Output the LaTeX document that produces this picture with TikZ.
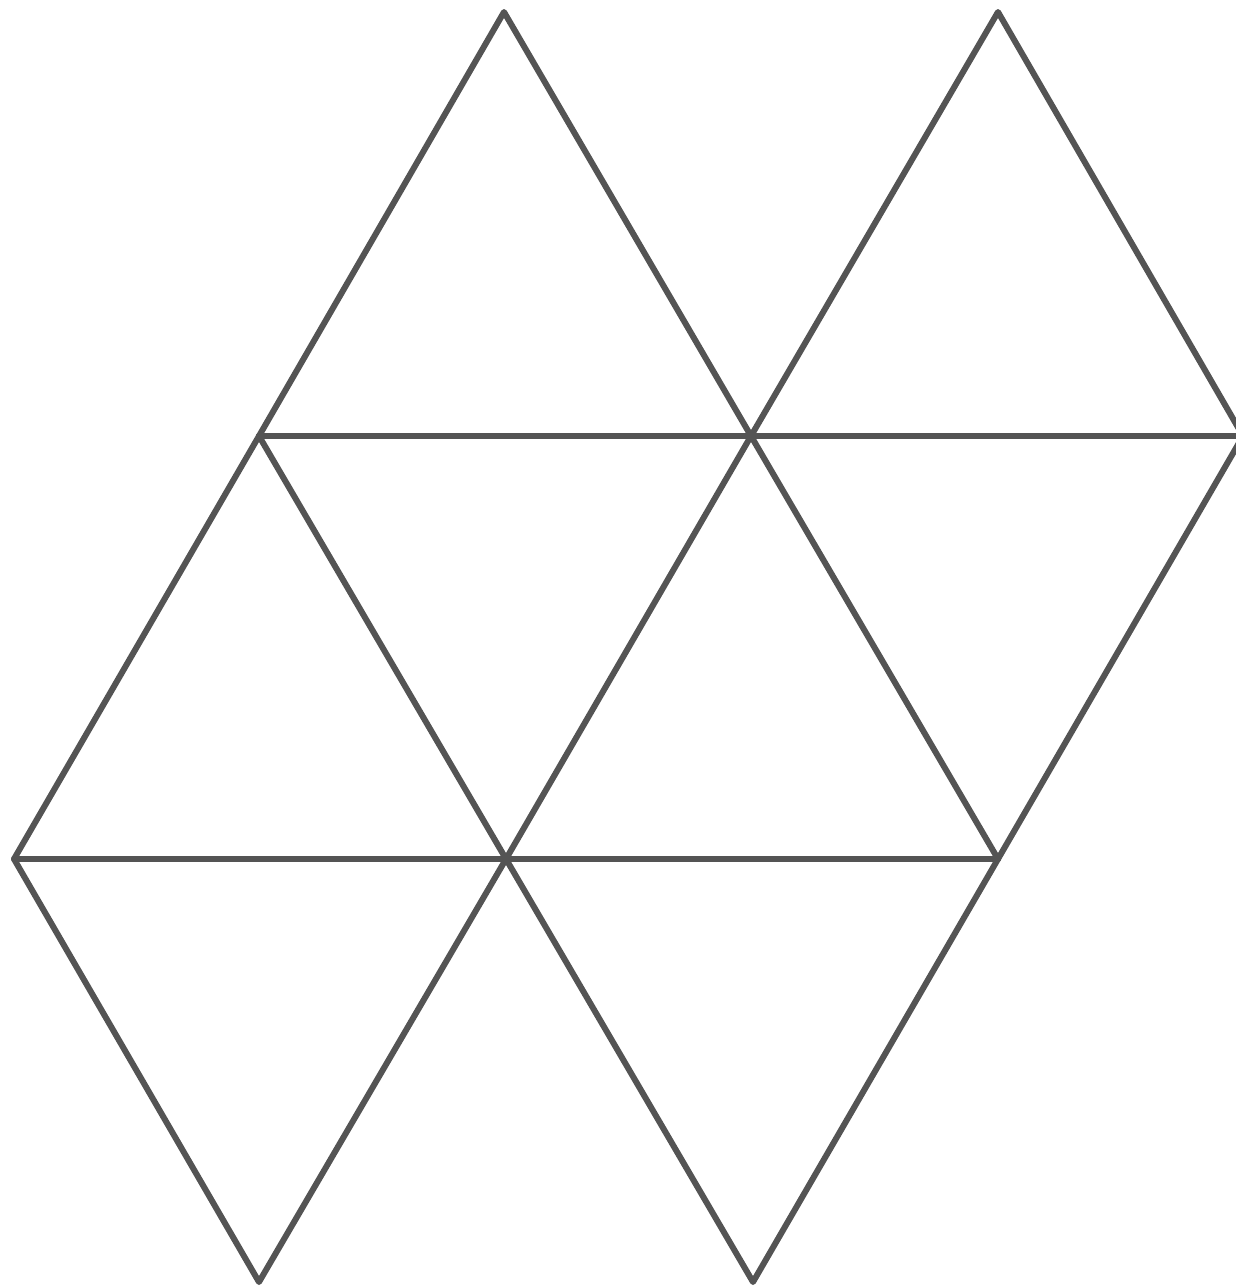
\documentclass[tikz,border=0pt]{standalone}
\begin{document}
\begin{tikzpicture}[x=1pt,y=-1pt,
  edge/.style={draw=black!67, line width=6pt, line join=round, line cap=round}]
\useasboundingbox (0,0) rectangle (1236,1288);
\coordinate (A) at (504,12);
\coordinate (B) at (998,12);
\coordinate (C) at (259,436);
\coordinate (D) at (751,436);
\coordinate (E) at (1243,436);
\coordinate (F) at (14,859);
\coordinate (G) at (506,859);
\coordinate (H) at (998,859);
\coordinate (I) at (259,1282);
\coordinate (J) at (753,1282);
\begin{scope}
\clip (0,0) rectangle (1236,1288);
\draw[edge] (C) -- (A) -- (D) -- (B) -- (E) -- (H);
\draw[edge] (C) -- (E);
\draw[edge] (C) -- (F) -- (I) -- (G) -- (J) -- (H);
\draw[edge] (C) -- (G) -- (D) -- (H);
\draw[edge] (F) -- (H);
\end{scope}
\end{tikzpicture}
\end{document}
